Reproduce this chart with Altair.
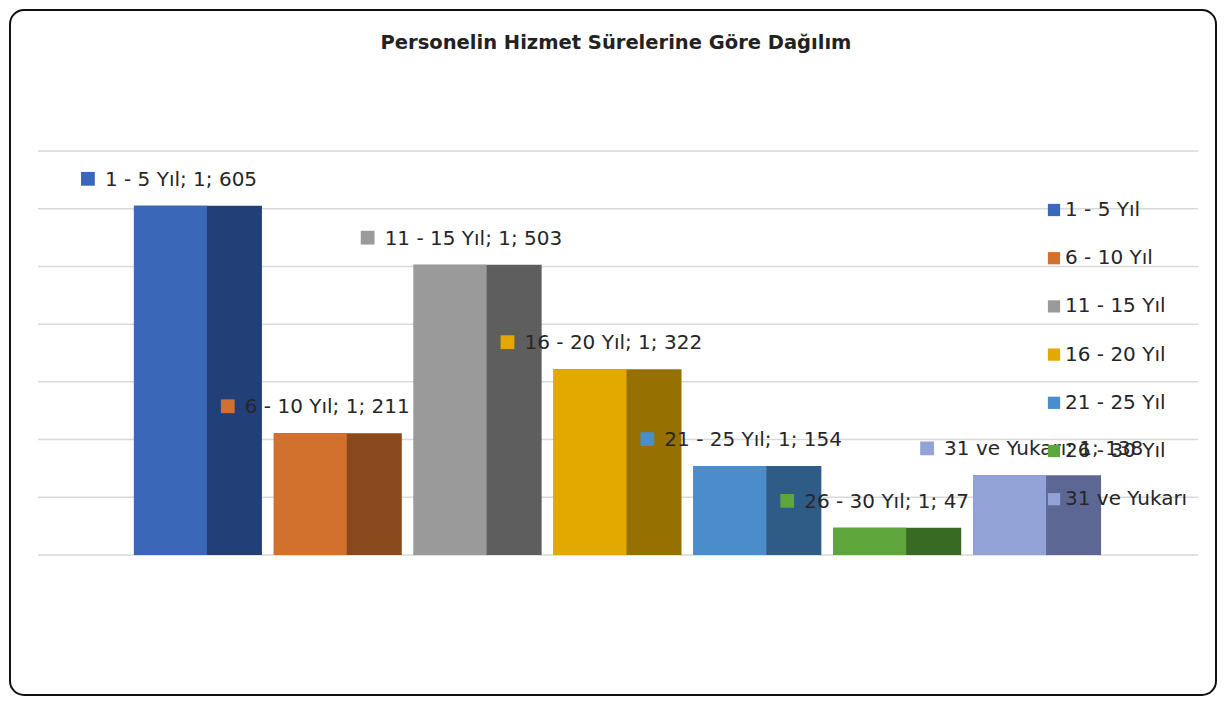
import altair as alt
import pandas as pd

# ---- data ----
categories = ["1 - 5 Yıl", "6 - 10 Yıl", "11 - 15 Yıl", "16 - 20 Yıl",
              "21 - 25 Yıl", "26 - 30 Yıl", "31 ve Yukarı"]
values = [605, 211, 503, 322, 154, 47, 138]
series_no = [1, 1, 1, 1, 1, 1, 1]
front_colors = ["#3a67b8", "#d2702e", "#9a9a9a", "#e2aa00",
                "#4b8dca", "#5ea53c", "#93a3d8"]
side_colors = ["#233f78", "#8a481d", "#5e5e5e", "#967000",
               "#2f5c86", "#386a24", "#5c6893"]
grid_values = [0, 100, 200, 300, 400, 500, 600, 700]
title_text = ["Personelin Hizmet Sürelerine Göre Dağılım"]

FONT = "DejaVu Sans"
TXT = "#262626"

df = pd.DataFrame({
    "cat": categories,
    "value": values,
    "n": series_no,
})
df["label"] = [f"{c}; {n}; {v}" for c, n, v in zip(categories, series_no, values)]
one = pd.DataFrame({"title": title_text})
grid_df = pd.DataFrame({"g": grid_values})

W, H = 1160, 404

xscale = alt.Scale(domain=categories, range=[90, 1069],
                   paddingInner=0.085, paddingOuter=0.0425)
yscale = alt.Scale(domain=[0, 700], nice=False)

x_enc = alt.X("cat:N", scale=xscale, axis=None, sort=categories)
y_enc = alt.Y("value:Q", scale=yscale, axis=None)

frame = alt.Chart(one).mark_rect(
    fill="white", stroke="#111111", strokeWidth=2, cornerRadius=14
).encode(
    x=alt.value(-28), x2=alt.value(1178), y=alt.value(-141), y2=alt.value(544)
)

grid = alt.Chart(grid_df).mark_rule(color="#d9d9d9", strokeWidth=1.5).encode(
    y=alt.Y("g:Q", scale=yscale, axis=None),
    x=alt.value(0), x2=alt.value(W),
)

title = alt.Chart(one).mark_text(
    font=FONT, fontSize=19.5, fontWeight="bold", color="#222222",
    align="center", baseline="middle"
).encode(x=alt.value(578), y=alt.value(-108), text="title:N")

side = alt.Chart(df).mark_bar(width=128).encode(
    x=x_enc, y=y_enc,
    color=alt.Color("cat:N", scale=alt.Scale(domain=categories, range=side_colors),
                    legend=None),
)

front = alt.Chart(df).mark_bar(width=73, xOffset=-27.5).encode(
    x=x_enc,
    y=y_enc,
    color=alt.Color(
        "cat:N",
        scale=alt.Scale(domain=categories, range=front_colors),
        sort=categories,
        legend=alt.Legend(
            title=None, orient="none", legendX=1006, legendY=49,
            symbolType="square", symbolSize=150, symbolStrokeWidth=0,
            labelFont=FONT, labelFontSize=20, labelColor=TXT,
            rowPadding=28.2, labelOffset=1, padding=0,
        ),
    ),
)

label_sq = alt.Chart(df).mark_point(
    shape="square", filled=True, size=190, opacity=1, xOffset=-110, yOffset=-27
).encode(
    x=x_enc, y=y_enc,
    color=alt.Color("cat:N", scale=alt.Scale(domain=categories, range=front_colors),
                    legend=None),
)

label_txt = alt.Chart(df).mark_text(
    font=FONT, fontSize=20, color=TXT, align="left", baseline="middle",
    dx=-93, dy=-26
).encode(
    x=x_enc, y=y_enc, text="label:N"
)

chart = alt.layer(frame, grid, title, side, front, label_sq, label_txt).resolve_scale(
    color="independent"
).properties(
    width=W, height=H, padding=1, background="white"
).configure_view(strokeWidth=0)

chart.save("out.html", embed_options={"renderer": "svg", "actions": False})
